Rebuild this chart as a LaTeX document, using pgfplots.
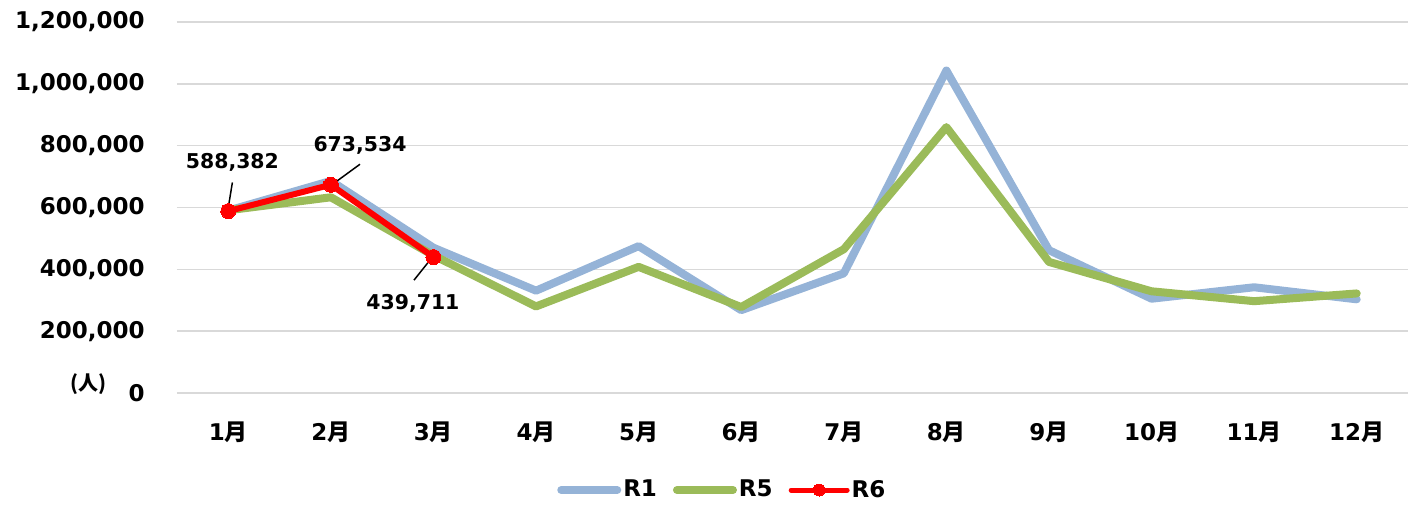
\documentclass[border=0pt]{standalone}
\usepackage{fontspec}
\usepackage{pgfplots}
\pgfplotsset{compat=1.18}
\usetikzlibrary{calc}
\setmainfont{DejaVu Sans}
\newfontfamily\cjk{Noto Sans CJK JP}
\newcommand{\tsuki}{{\cjk\bfseries 月}}
\definecolor{cRone}{HTML}{95B3D7}
\definecolor{cRfive}{HTML}{9BBB59}
\definecolor{cgrid}{HTML}{D9D9D9}
\begin{document}
\begin{tikzpicture}
\begin{axis}[
  scale only axis, width=615.5pt, height=185.5pt,
  xmin=-0.5, xmax=11.5, ymin=0, ymax=1200000,
  axis line style={draw=none},
  major tick length=0pt,
  xtick={0,...,11},
  xticklabels={1\tsuki,2\tsuki,3\tsuki,4\tsuki,5\tsuki,6\tsuki,7\tsuki,8\tsuki,9\tsuki,10\tsuki,11\tsuki,12\tsuki},
  ytick={0,200000,400000,600000,800000,1000000,1200000},
  yticklabels={0,{200,000},{400,000},{600,000},{800,000},{1,000,000},{1,200,000}},
  scaled y ticks=false,
  ymajorgrids, grid style={cgrid, line width=0.8pt},
  yticklabel style={anchor=east, inner sep=0pt, font=\bfseries\fontsize{11.5}{12}\selectfont},
  yticklabel shift=16pt,
  xticklabel style={anchor=north, inner sep=0pt, font=\bfseries\fontsize{11.5}{12}\selectfont},
  xticklabel shift=14pt,
  clip=false,
  legend style={at={(0.443,-0.2615)}, anchor=center, draw=none, fill=none,
    font=\bfseries\fontsize{11.5}{12}\selectfont,
    /tikz/every even column/.append style={column sep=7pt},
    inner sep=0pt, nodes={inner sep=1pt}},
  legend columns=3,
  legend image code/.code={\draw[mark repeat=2,mark phase=2,#1] plot coordinates {(0pt,0pt) (14pt,0pt) (28pt,0pt)};},
]
\addplot[cRone, line width=4pt, line join=round, line cap=round] coordinates {
(0,590000) (1,686000) (2,470000) (3,331000) (4,475000) (5,268000)
(6,387000) (7,1043000) (8,462000) (9,305000) (10,342000) (11,303000)};
\addlegendentry{R1}
\addplot[cRfive, line width=4pt, line join=round, line cap=round] coordinates {
(0,591000) (1,633000) (2,445000) (3,280000) (4,408000) (5,278000)
(6,465000) (7,860000) (8,424000) (9,329000) (10,297000) (11,322000)};
\addlegendentry{R5}
\addplot[red, line width=3pt, line join=round, mark=*, mark size=3.75pt, mark options={fill=red, draw=red, line width=0pt},
  legend image post style={line width=2.5pt, mark size=3pt, line cap=round}] coordinates {
(0,588382) (1,673534) (2,439711)};
\addlegendentry{R6}
\draw[black, line width=0.75pt] (axis cs:0.04,681000) -- (axis cs:0,600000);
\draw[black, line width=0.75pt] (axis cs:1.284,740000) -- (axis cs:1.02,676000);
\draw[black, line width=0.75pt] (axis cs:1.81,365000) -- (axis cs:1.99,439711);
\node[font=\bfseries\fontsize{10.2}{12}\selectfont, inner sep=0pt] at (axis cs:0.04,746000) {588,382};
\node[font=\bfseries\fontsize{10.2}{12}\selectfont, inner sep=0pt] at (axis cs:1.284,801000) {673,534};
\node[font=\bfseries\fontsize{10.2}{12}\selectfont, inner sep=0pt] at (axis cs:1.80,290700) {439,711};
\end{axis}
\node[font=\cjk\bfseries\fontsize{10}{11}\selectfont, inner sep=0pt] at ($(current axis.south west)+(-44pt,4.5pt)$) {(人)};
\pgfresetboundingbox
\path[use as bounding box] ($(current axis.south west)+(-88.5pt,-55.5pt)$) rectangle ($(current axis.north east)+(0pt,11pt)$);
\end{tikzpicture}
\end{document}
